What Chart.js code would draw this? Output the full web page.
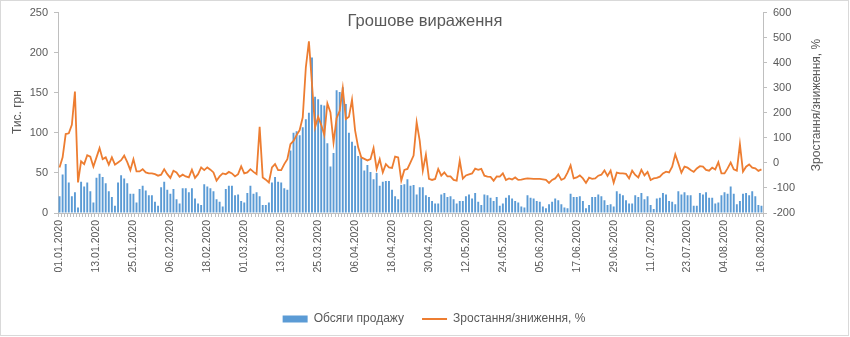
<!DOCTYPE html>
<html>
<head>
<meta charset="utf-8">
<script src="https://cdn.jsdelivr.net/npm/chart.js@4/dist/chart.umd.min.js"></script>
<style>
  body { margin: 0; background: #fff; }
</style>
</head>
<body>
<canvas id="chart" width="850" height="337"></canvas>
<script>
// Daily categories, 01.01.2020 .. 16.08.2020
const dayCount = 229;
const labels = [];
for (let i = 0; i < dayCount; i++) {
  const d = new Date(2020, 0, 1 + i);
  labels.push(
    String(d.getDate()).padStart(2, "0") + "." +
    String(d.getMonth() + 1).padStart(2, "0") + "." + d.getFullYear()
  );
}

// Only every 12th date is printed on the axis
const labelStep = 12;

// Sales volume, thousand UAH (left axis)
const sales = [
  21, 48, 61, 38, 21, 26, 7, 39, 33, 38, 27, 13, 44, 49, 45, 37, 27, 20, 9, 38, 47, 43, 37, 24, 24, 13, 30, 34, 28, 22, 22, // Jan
  14, 9, 32, 39, 29, 24, 30, 17, 12, 31, 31, 26, 31, 18, 12, 10, 36, 33, 31, 27, 17, 14, 8, 30, 34, 34, 22, 23, 15, // Feb
  13, 25, 34, 24, 26, 21, 10, 10, 13, 38, 45, 39, 38, 31, 29, 78, 100, 102, 97, 107, 117, 125, 194, 145, 142, 135, 134, 87, 58, 75, 153, // Mar
  151, 157, 136, 100, 89, 84, 71, 69, 53, 60, 51, 42, 50, 34, 39, 40, 40, 29, 21, 17, 35, 36, 42, 34, 35, 23, 32, 32, 22, 20, // Apr
  15, 12, 12, 23, 25, 20, 21, 17, 12, 15, 15, 21, 23, 18, 25, 14, 10, 23, 22, 19, 15, 20, 9, 12, 19, 22, 18, 15, 13, 8, 7, // May
  22, 19, 18, 15, 14, 8, 6, 11, 14, 18, 16, 11, 7, 6, 24, 20, 20, 21, 15, 6, 10, 20, 20, 23, 21, 16, 10, 11, 8, 27, // Jun
  24, 22, 16, 12, 12, 22, 20, 25, 17, 21, 10, 5, 18, 19, 25, 23, 15, 14, 11, 27, 23, 26, 22, 22, 9, 9, 25, 23, 26, 19, 19, // Jul
  12, 13, 22, 26, 24, 33, 24, 11, 15, 24, 25, 22, 27, 21, 10, 9 // Aug
];

// Growth / decline, % (right axis)
const growth = [
  -18, 22, 115, 118, 152, 285, -78, 6, -5, 31, 25, -15, 22, 59, 15, 22, -7, 22, -7, 2, 11, 29, 3, -29, 15, -34, -34, -25, -38, -42, -42, // Jan
  -45, -51, -47, -25, -45, -60, -31, -38, -55, -47, -54, -58, -27, -60, -45, -18, -29, -18, -27, -38, -71, -54, -42, -45, -36, -42, -54, -45, -14, // Feb
  -42, -38, -25, -36, -45, 144, -58, -67, -78, -18, -5, -29, -29, -5, 15, 75, 88, 111, 131, 182, 381, 485, 315, 142, 184, 152, 112, 237, 201, 82, 179, // Mar
  208, 298, 175, 184, 252, 130, 62, 22, 16, 10, 15, 59, -24, 15, -38, -5, -18, -20, 25, 22, -71, -28, -24, 2, 29, 162, 88, -31, 33, -64, // Apr
  -68, -64, -24, -51, -38, -54, -54, -68, -71, 9, -63, -50, -46, -42, -23, -28, -24, -51, -55, -56, -71, -54, -55, -42, -68, -62, -66, -58, -68, -67, -64, // May
  -62, -63, -64, -64, -64, -66, -68, -80, -68, -62, -46, -68, -62, -39, -10, -62, -58, -50, -62, -80, -59, -64, -62, -51, -47, -30, -52, -31, -79, -39, // Jun
  -42, -42, -44, -62, -31, -48, -58, -28, -50, -36, -68, -62, -60, -55, -42, -35, -38, -15, 34, -2, -39, -15, -19, -28, -36, -22, -13, -15, -28, -31, -19, // Jul
  -26, 3, -42, -42, -22, 1, -26, -31, 75, -35, -15, -6, -19, -22, -32, -26 // Aug
];

const textColor = "#595959";
const axisColor = "#BFBFBF";
const fontFamily = "'Liberation Sans', Arial, sans-serif";

// Title, axis titles and the outer frame
const decorations = {
  id: "decorations",
  afterDraw(chart) {
    const c = chart.ctx;
    c.save();
    c.fillStyle = textColor;
    c.textAlign = "center";
    c.textBaseline = "middle";

    c.font = "16.5px " + fontFamily;
    c.fillText("Грошове вираження", 425, 21);

    c.font = "12px " + fontFamily;
    c.save();
    c.translate(18, 112);
    c.rotate(-Math.PI / 2);
    c.fillText("Тис. грн", 0, 0);
    c.restore();

    c.save();
    c.translate(817, 105);
    c.rotate(-Math.PI / 2);
    c.fillText("Зростання/зниження, %", 0, 0);
    c.restore();

    c.strokeStyle = "#D9D9D9";
    c.lineWidth = 1;
    c.strokeRect(0.5, 0.5, 848, 335);
    c.restore();
  },
};

const ctx = document.getElementById("chart").getContext("2d");

new Chart(ctx, {
  type: "bar",
  data: {
    labels: labels,
    datasets: [
      {
        type: "bar",
        label: "Обсяги продажу",
        data: sales,
        backgroundColor: "#5B9BD5",
        yAxisID: "y",
        barPercentage: 0.62,
        categoryPercentage: 1,
        order: 1,
      },
      {
        type: "line",
        label: "Зростання/зниження, %",
        data: growth,
        borderColor: "#ED7D31",
        backgroundColor: "#ED7D31",
        borderWidth: 1.8,
        pointRadius: 0,
        pointBorderWidth: 2,
        tension: 0,
        yAxisID: "y1",
        order: 0,
      },
    ],
  },
  options: {
    responsive: false,
    animation: false,
    // left padding only nudges the legend to the right; y axis width compensates
    layout: { padding: { top: 12, bottom: 2, left: 18, right: 0 } },
    plugins: {
      tooltip: { enabled: false },
      legend: {
        position: "bottom",
        labels: {
          color: textColor,
          font: { family: fontFamily, size: 12 },
          usePointStyle: true,
          pointStyleWidth: 25,
          boxHeight: 7,
          padding: 18,
          sort: (a, b) => a.datasetIndex - b.datasetIndex,
          generateLabels(chart) {
            const items = Chart.defaults.plugins.legend.labels.generateLabels(chart);
            items.forEach((item) => {
              item.pointStyle = item.datasetIndex === 0 ? "rect" : "line";
              if (item.datasetIndex === 1) item.lineWidth = 2;
            });
            return items;
          },
        },
      },
    },
    scales: {
      x: {
        offset: true,
        grid: { drawOnChartArea: false, offset: true, tickLength: 4, color: axisColor },
        border: { color: axisColor },
        ticks: {
          autoSkip: false,
          minRotation: 90,
          maxRotation: 90,
          padding: 3,
          color: textColor,
          font: { family: fontFamily, size: 10.5 },
          callback: (value, index) => (index % labelStep === 0 ? labels[index] : ""),
        },
        afterFit(scale) {
          scale.height = 82;
        },
      },
      y: {
        position: "left",
        min: 0,
        max: 250,
        grid: { drawOnChartArea: false, tickLength: 4, color: axisColor },
        border: { color: axisColor },
        ticks: { stepSize: 50, padding: 6, color: textColor, font: { family: fontFamily, size: 11 } },
        afterFit(scale) {
          scale.width = 40;
        },
      },
      y1: {
        position: "right",
        min: -200,
        max: 600,
        grid: { drawOnChartArea: false, tickLength: 4, color: axisColor },
        border: { color: axisColor },
        ticks: { stepSize: 100, padding: 6, color: textColor, font: { family: fontFamily, size: 11 } },
        afterFit(scale) {
          scale.width = 87;
        },
      },
    },
  },
  plugins: [decorations],
});
</script>
</body>
</html>
